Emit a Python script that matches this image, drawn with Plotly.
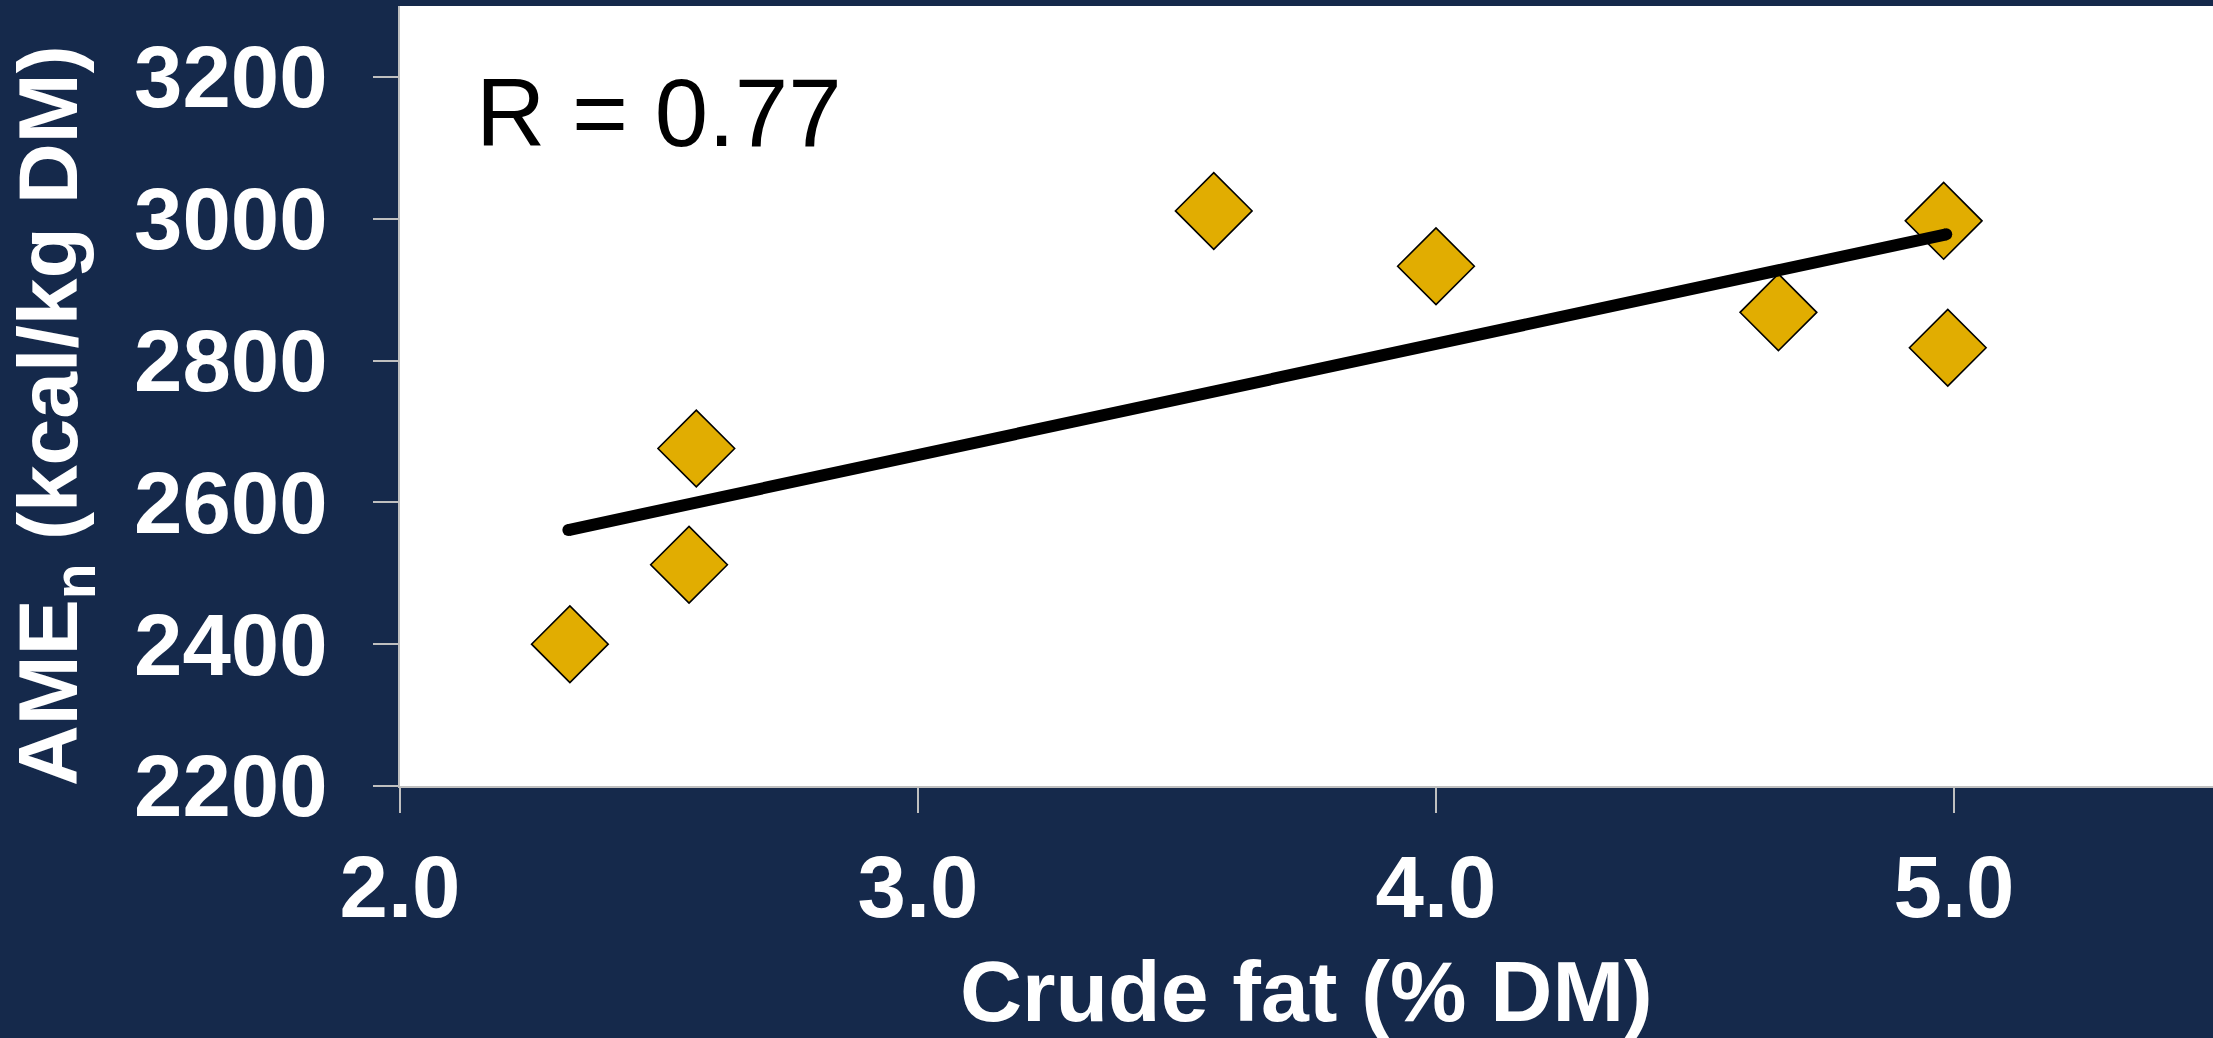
import plotly.graph_objects as go

# Data
crude_fat = [2.328, 2.558, 2.572, 3.571, 4.000, 4.661, 4.980, 4.988]
amen = [2400, 2512, 2676, 3011, 2933, 2868, 2997, 2818]

fit_x = [2.325, 4.985]
fit_y = [2561, 2978]

x_ticks = [2.0, 3.0, 4.0, 5.0]
x_tick_text = ["2.0", "3.0", "4.0", "5.0"]
y_ticks = [2200, 2400, 2600, 2800, 3000, 3200]
y_tick_text = ["2200", "2400", "2600", "2800", "3000", "3200"]

r_label = "R = 0.77"
x_title = "Crude fat (% DM)"
y_title = "AME<sub>n</sub> (kcal/kg DM)"

BG = "#15294B"
FONT = "Liberation Sans, Arial, sans-serif"
AXIS_GREY = "#BFBFBF"

fig = go.Figure()
fig.add_trace(go.Scatter(
    x=crude_fat, y=amen, mode="markers",
    marker=dict(symbol="diamond", size=59, color="#E1AD01",
                line=dict(color="black", width=1.6)),
    showlegend=False, hoverinfo="skip"))
fig.add_trace(go.Scatter(
    x=fit_x, y=fit_y, mode="lines+markers",
    line=dict(color="black", width=12),
    marker=dict(symbol="circle", size=12, color="black", line=dict(width=0)),
    showlegend=False, hoverinfo="skip"))

fig.update_layout(
    width=2213, height=1038,
    margin=dict(l=400, r=0, t=6, b=252, autoexpand=False),
    paper_bgcolor=BG, plot_bgcolor="white",
    font=dict(family=FONT, color="white"),
    xaxis=dict(range=[2.0, 5.5], tickvals=x_ticks, ticktext=x_tick_text,
               showgrid=False, zeroline=False, showline=True,
               linecolor=AXIS_GREY, linewidth=2,
               ticks="outside", ticklen=25, tickwidth=2, tickcolor=AXIS_GREY,
               tickfont=dict(family=FONT, size=87, color="white", weight="bold"),
               ticklabelstandoff=0, automargin=False),
    yaxis=dict(range=[2200, 3300], tickvals=y_ticks, ticktext=y_tick_text,
               showgrid=False, zeroline=False, showline=True,
               linecolor=AXIS_GREY, linewidth=2,
               ticks="outside", ticklen=25, tickwidth=2, tickcolor=AXIS_GREY,
               tickfont=dict(family=FONT, size=87, color="white", weight="bold"),
               ticklabelstandoff=28, automargin=False),
    annotations=[
        dict(text=r_label, xref="paper", yref="paper",
             x=(474 - 400) / 1813, y=(786 - 112.5) / 780,
             xanchor="left", yanchor="middle", showarrow=False,
             font=dict(family=FONT, size=96, color="black")),
        dict(text=x_title, xref="paper", yref="paper",
             x=0.5, y=(786 - 990.5) / 780,
             xanchor="center", yanchor="middle", showarrow=False,
             font=dict(family=FONT, size=86, color="white", weight="bold")),
        dict(text=y_title, xref="paper", yref="paper",
             x=(54 - 400) / 1813, y=(786 - 416) / 780,
             xanchor="center", yanchor="middle", showarrow=False, textangle=-90,
             font=dict(family=FONT, size=84, color="white", weight="bold")),
    ],
)

fig.write_html("out.html",
               config={"displayModeBar": False},
               post_script="document.body.style.margin='0px';"
                           "document.body.style.overflow='hidden';")
